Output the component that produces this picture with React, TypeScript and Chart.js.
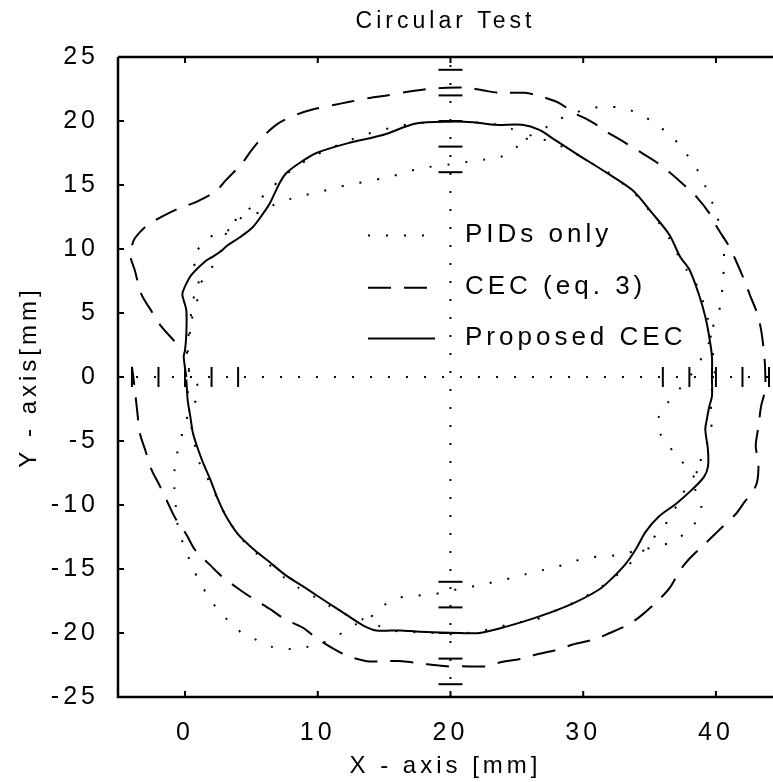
import React, { useEffect, useRef } from 'react';
import { Chart, registerables } from 'chart.js';

Chart.register(...registerables);

const TITLE = 'Circular Test';
const X_LABEL = 'X - axis [mm]';
const Y_LABEL = 'Y - axis[mm]';
const FONT = '"Liberation Sans", Arial, Helvetica, sans-serif';

const X_MIN = -5.05;
const X_MAX = 44.3;
const Y_MIN = -25;
const Y_MAX = 25;
const xTickValues = [0, 10, 20, 30, 40];
const yTickValues = [-25, -20, -15, -10, -5, 0, 5, 10, 15, 20, 25];

const seriesLabels = ['PIDs only', 'CEC (eq. 3)', 'Proposed CEC'];

// Proposed CEC (solid)
const proposedPath: [number, number][] = [
  [0.1, 0.0], [-0.1, 1.6], [0.0, 2.1], [0.1, 3.4], [0.1, 5.2], [-0.1, 6.0], [-0.2, 6.5], [0.1, 7.3],
  [0.5, 8.0], [1.6, 9.1], [2.1, 9.4], [2.8, 9.9], [3.1, 10.2], [4.1, 10.9], [5.1, 11.7], [5.9, 12.8],
  [6.4, 13.6], [7.1, 15.1], [7.6, 15.9], [8.6, 16.7], [9.9, 17.5], [12.4, 18.3], [14.9, 18.9],
  [17.4, 19.8], [20.0, 19.95], [21.7, 19.9], [23.4, 19.7], [25.4, 19.7], [26.7, 19.3], [27.9, 18.5],
  [29.7, 17.3], [31.7, 16.0], [33.7, 14.6], [35.2, 12.8], [36.5, 11.1], [37.3, 9.4], [38.0, 8.4],
  [38.7, 6.5], [39.2, 4.7], [39.5, 3.1], [39.7, 1.6], [39.7, 0.0], [39.7, -1.5], [39.5, -2.3],
  [39.3, -3.4], [39.2, -4.1], [39.4, -5.7], [39.4, -7.0], [39.1, -7.8], [38.2, -8.8], [37.0, -9.9],
  [35.7, -10.9], [34.7, -12.1], [34.0, -13.4], [33.2, -14.6], [32.2, -15.7], [31.2, -16.6],
  [29.2, -17.7], [26.7, -18.7], [24.2, -19.5], [22.2, -20.0], [20.7, -20.0], [17.7, -19.9],
  [16.2, -19.8], [14.4, -19.8], [13.4, -19.4], [12.2, -18.6], [10.7, -17.6], [9.1, -16.5],
  [7.6, -15.5], [6.3, -14.4], [5.1, -13.4], [4.0, -12.3], [3.1, -10.9], [2.5, -9.6], [1.9, -8.0],
  [1.4, -6.8], [1.0, -5.7], [0.6, -4.4], [0.4, -3.1], [0.2, -1.8], [0.1, -0.2],
];

// CEC (eq. 3) (dashed)
const cecPath: [number, number][] = [
  [-0.8, 2.8], [-1.9, 4.1], [-2.5, 5.1], [-3.3, 6.5], [-3.8, 8.4], [-4.1, 9.4], [-3.9, 10.6],
  [-3.5, 11.2], [-2.8, 11.9], [-1.6, 12.6], [-0.4, 13.2], [0.9, 13.7], [2.3, 14.5], [3.1, 15.4],
  [4.3, 16.7], [5.0, 17.7], [5.9, 18.8], [7.0, 19.8], [8.4, 20.5], [9.6, 20.9], [11.2, 21.25],
  [12.4, 21.5], [13.9, 21.8], [15.2, 22.0], [16.9, 22.3], [18.3, 22.5], [19.7, 22.6], [21.2, 22.6],
  [22.4, 22.4], [23.7, 22.2], [25.6, 22.2], [26.7, 21.95], [28.2, 21.4], [29.2, 20.7], [30.7, 19.9],
  [31.7, 19.2], [33.0, 18.4], [34.1, 17.7], [35.5, 16.8], [36.5, 16.0], [37.7, 14.9], [38.6, 14.0],
  [39.5, 12.8], [40.2, 11.5], [41.0, 10.2], [41.5, 9.1], [42.2, 7.4], [42.6, 6.3], [43.1, 5.0],
  [43.4, 3.7], [43.6, 2.1], [43.7, 0.8], [43.7, -1.0], [43.4, -2.3], [43.2, -3.9], [43.0, -5.4],
  [43.2, -6.7], [43.1, -8.2], [42.7, -9.1], [42.2, -9.7], [41.5, -10.7], [40.2, -12.0], [39.2, -13.0],
  [38.0, -14.2], [37.3, -15.1], [36.5, -16.5], [35.7, -17.4], [34.3, -18.7], [33.3, -19.4],
  [32.0, -20.0], [30.8, -20.5], [29.2, -20.9], [28.1, -21.3], [26.4, -21.7], [25.4, -22.0],
  [23.7, -22.3], [22.7, -22.6], [20.9, -22.6], [19.7, -22.6], [17.9, -22.4], [16.4, -22.2],
  [15.2, -22.2], [13.7, -22.2], [12.4, -21.85], [11.3, -21.3], [9.9, -20.4], [8.9, -19.6],
  [7.5, -18.9], [6.5, -18.2], [5.1, -17.3], [4.1, -16.6], [2.8, -15.6], [1.9, -14.7], [0.75, -13.5],
  [0.1, -12.3], [-0.75, -11.0], [-1.4, -9.6], [-2.0, -8.3], [-2.5, -7.3], [-3.0, -5.7], [-3.4, -4.4],
  [-3.6, -2.7], [-3.8, -0.8], [-4.0, 0.8],
];

// PIDs only (dotted) - first lap
const pidLap1: [number, number][] = [
  [0.3, 0.4], [0.15, 2.1], [0.4, 4.1], [0.8, 5.5], [1.05, 6.8], [0.9, 8.2], [0.6, 9.3], [1.25, 10.3],
  [2.3, 11.2], [3.6, 11.6], [4.4, 12.6], [5.8, 12.9], [6.6, 13.4], [7.9, 13.9], [9.0, 14.2],
  [10.3, 14.5], [11.4, 14.8], [12.7, 15.1], [13.9, 15.3], [15.2, 15.6], [16.4, 15.9], [17.7, 16.3],
  [19.9, 16.6], [21.2, 16.8], [22.6, 17.0], [23.8, 17.2], [24.9, 17.9], [25.9, 18.8], [26.9, 19.3],
  [28.1, 20.1], [29.3, 20.6], [30.5, 21.0], [31.8, 21.1], [33.1, 21.0], [34.3, 20.5], [35.3, 19.9],
  [36.3, 19.1], [37.3, 18.1], [38.0, 17.1], [38.7, 16.0], [39.2, 14.9], [39.7, 13.7], [40.1, 12.5],
  [40.5, 11.2], [40.6, 9.9], [40.6, 8.5], [40.5, 7.3], [40.4, 5.9], [40.1, 4.7], [39.6, 3.5],
  [39.4, 2.4], [38.7, 1.1], [38.0, 0.0], [37.2, -1.0], [36.3, -2.1], [35.7, -3.1], [35.8, -4.4],
  [36.5, -5.4], [37.2, -6.5], [38.5, -7.2], [38.4, -8.6], [38.9, -10.1], [38.5, -11.3], [37.7, -12.2],
  [36.6, -12.9], [35.5, -13.3], [34.2, -13.5], [33.0, -13.85], [31.75, -14.0], [30.5, -14.1],
  [29.3, -14.4], [28.1, -14.8], [26.9, -15.1], [25.7, -15.4], [24.6, -15.7], [23.3, -16.0],
  [22.1, -16.3], [20.8, -16.5], [19.7, -16.8], [18.4, -17.0], [17.2, -17.1], [15.9, -17.3],
  [14.9, -17.9], [13.8, -18.9], [12.7, -19.4], [11.5, -20.2], [10.3, -20.8], [9.15, -21.1],
  [7.9, -21.25], [6.6, -21.1], [5.5, -20.6], [4.3, -20.0], [3.4, -19.2], [2.6, -18.3], [1.75, -17.2],
  [1.2, -16.1], [0.6, -15.0], [0.2, -13.9], [-0.25, -12.7], [-0.6, -11.3], [-0.7, -10.1], [-0.8, -8.7],
  [-0.8, -7.4], [-0.6, -6.0], [-0.3, -4.8], [0.0, -3.6], [0.5, -2.4], [1.05, -1.3], [0.7, 0.0],
];

// PIDs only (dotted) - second lap
const pidLap2: [number, number][] = [
  [0.3, 0.6], [0.2, 2.0], [0.4, 3.8], [0.5, 5.5], [0.9, 6.9], [1.65, 8.0], [2.4, 9.2], [2.9, 10.4],
  [3.3, 11.9], [4.2, 12.5], [5.3, 13.6], [6.4, 14.6], [7.3, 15.6], [8.4, 16.4], [9.4, 17.1],
  [10.6, 17.7], [11.9, 18.3], [13.2, 18.8], [14.4, 19.2], [15.7, 19.5], [17.2, 19.8], [18.8, 19.9],
  [20.5, 20.0], [22.0, 19.9], [23.6, 19.7], [24.8, 19.3], [25.8, 18.6], [27.3, 18.5], [28.6, 17.9],
  [29.7, 17.3], [30.8, 16.6], [32.0, 15.9], [33.0, 15.1], [34.0, 14.2], [34.9, 13.1], [35.7, 12.05],
  [36.5, 10.8], [37.2, 9.4], [37.9, 8.2], [38.5, 7.3], [39.0, 6.0], [39.4, 4.5], [39.7, 2.4],
  [39.9, 0.3], [39.6, -1.8], [39.7, -3.4], [39.5, -4.7], [39.0, -6.0], [38.6, -7.3], [37.9, -8.4],
  [37.2, -9.7], [36.6, -10.9], [35.8, -12.0], [34.9, -13.0], [34.2, -14.0], [33.1, -14.9],
  [32.1, -15.9], [31.0, -16.6], [29.6, -17.5], [28.4, -18.0], [27.4, -18.5], [26.3, -19.0],
  [24.9, -19.2], [23.4, -19.6], [22.0, -19.9], [20.3, -20.1], [18.6, -20.0], [16.8, -19.9],
  [15.6, -19.8], [14.5, -19.4], [13.3, -18.9], [12.0, -18.5], [10.9, -17.9], [9.8, -17.2],
  [8.6, -16.5], [7.5, -15.7], [6.5, -14.8], [5.4, -13.8], [4.4, -12.8], [3.4, -11.4], [2.6, -9.9],
  [1.9, -8.3], [1.2, -7.0], [0.8, -5.6], [0.5, -4.0], [0.3, -2.5], [0.2, -1.0],
];

// reference cross and radial marks
const centerX = 20;
const centerY = 0;
const crossHorizontal: [number, number][] = [[X_MIN, centerY], [X_MAX, centerY]];
const crossVertical: [number, number][] = [[centerX, Y_MIN], [centerX, Y_MAX]];
const radialMarksY = [24, 22, 20, 18, 16, -16, -18, -20, -22, -24];
const radialMarksX = [-4, -2, 0, 2, 4, 36, 38, 40, 42, 44];

const DOTTED = [2, 16];
const DASHED = [23, 13];
const LETTER_SPACING = '4px';

const toPts = (arr: [number, number][]) => arr.map(([x, y]) => ({ x, y }));

const lineStyle = (dash: number[], tension: number) => ({
  showLine: true,
  borderColor: '#000',
  backgroundColor: '#000',
  borderWidth: 2,
  borderDash: dash,
  pointRadius: 0,
  tension,
  fill: false,
});

const spacingPlugin = {
  id: 'spacing',
  beforeDraw(chart: any) {
    chart.ctx.letterSpacing = LETTER_SPACING;
  },
};

const framePlugin = {
  id: 'frame',
  afterDraw(chart: any) {
    const { ctx, chartArea: a, scales } = chart;
    ctx.save();
    ctx.strokeStyle = '#000';
    ctx.setLineDash([]);
    ctx.lineWidth = 2.5;
    ctx.beginPath();
    ctx.moveTo(a.left, a.top);
    ctx.lineTo(a.right, a.top);
    ctx.moveTo(a.left, a.top);
    ctx.lineTo(a.left, a.bottom);
    ctx.lineTo(a.right, a.bottom);
    ctx.stroke();
    ctx.lineWidth = 2;
    const len = 6;
    ctx.beginPath();
    xTickValues.forEach((v) => {
      const px = scales.x.getPixelForValue(v);
      ctx.moveTo(px, a.bottom);
      ctx.lineTo(px, a.bottom - len);
      ctx.moveTo(px, a.top);
      ctx.lineTo(px, a.top + len);
    });
    yTickValues.forEach((v) => {
      const py = scales.y.getPixelForValue(v);
      ctx.moveTo(a.left, py);
      ctx.lineTo(a.left + len, py);
    });
    ctx.stroke();
    ctx.restore();
  },
};

const legendPlugin = {
  id: 'inlineLegend',
  afterDatasetsDraw(chart: any) {
    const { ctx, chartArea: a } = chart;
    const rows = [177.5, 229.7, 280.5];
    ctx.save();
    ctx.letterSpacing = LETTER_SPACING;
    ctx.font = `26px ${FONT}`;
    ctx.fillStyle = '#000';
    ctx.textAlign = 'left';
    ctx.textBaseline = 'middle';
    seriesLabels.forEach((label, i) => {
      const ds = chart.data.datasets[i];
      const y = a.top + rows[i];
      ctx.strokeStyle = '#000';
      ctx.lineWidth = 2;
      ctx.setLineDash(ds.borderDash || []);
      ctx.lineDashOffset = 0;
      ctx.beginPath();
      ctx.moveTo(a.left + 250, y + 1);
      ctx.lineTo(a.left + 317, y + 1);
      ctx.stroke();
      ctx.setLineDash([]);
      ctx.fillText(label, a.left + 347, y);
    });
    ctx.restore();
  },
};

export default function App() {
  const ref = useRef<HTMLCanvasElement>(null);

  useEffect(() => {
    document.body.style.margin = '0';
    document.body.style.overflow = 'hidden';
    const canvas = ref.current;
    if (!canvas) return;
    Chart.defaults.font.family = FONT;
    Chart.defaults.color = '#000';

    const chart = new Chart(canvas, {
      type: 'scatter',
      data: {
        datasets: [
          { label: seriesLabels[0], data: toPts([...pidLap1, ...pidLap2]), ...lineStyle(DOTTED, 0.3) },
          { label: seriesLabels[1], data: toPts(cecPath), ...lineStyle(DASHED, 0.3) },
          { label: seriesLabels[2], data: toPts(proposedPath), ...lineStyle([], 0.3) },
          { label: 'cross-h', data: toPts(crossHorizontal), ...lineStyle(DOTTED, 0) },
          { label: 'cross-v', data: toPts(crossVertical), ...lineStyle(DOTTED, 0) },
          {
            label: 'marks-h',
            data: radialMarksY.map((y) => ({ x: centerX, y })),
            showLine: false,
            pointStyle: 'line',
            pointRadius: 12,
            pointRotation: 0,
            pointBorderWidth: 2,
            pointBorderColor: '#000',
            pointBackgroundColor: '#000',
          },
          {
            label: 'marks-v',
            data: radialMarksX.map((x) => ({ x, y: centerY })),
            showLine: false,
            pointStyle: 'line',
            pointRadius: 10,
            pointRotation: 90,
            pointBorderWidth: 2,
            pointBorderColor: '#000',
            pointBackgroundColor: '#000',
          },
        ] as any,
      },
      options: {
        animation: false,
        responsive: false,
        devicePixelRatio: 1,
        events: [],
        layout: { padding: 0, autoPadding: false },
        plugins: {
          legend: { display: false },
          tooltip: { enabled: false },
          title: {
            display: true,
            text: TITLE,
            fullSize: false,
            color: '#000',
            font: { family: FONT, size: 23, weight: 'normal' },
            padding: { top: 8.2, bottom: 21.2 },
          },
        },
        scales: {
          x: {
            type: 'linear',
            min: X_MIN,
            max: X_MAX,
            grid: { display: false },
            border: { display: false },
            afterBuildTicks: (s: any) => {
              s.ticks = xTickValues.map((v) => ({ value: v }));
            },
            afterFit: (s: any) => {
              s.height = 85;
              s.paddingLeft = 0;
              s.paddingRight = 0;
            },
            ticks: {
              color: '#000',
              font: { family: FONT, size: 25 },
              padding: 13,
              maxRotation: 0,
              autoSkip: false,
            },
            title: {
              display: true,
              text: X_LABEL,
              color: '#000',
              font: { family: FONT, size: 24 },
              padding: { top: 0, bottom: 1.6 },
            },
          },
          y: {
            type: 'linear',
            min: Y_MIN,
            max: Y_MAX,
            grid: { display: false },
            border: { display: false },
            afterBuildTicks: (s: any) => {
              s.ticks = yTickValues.map((v) => ({ value: v }));
            },
            afterFit: (s: any) => {
              s.width = 118;
              s.paddingTop = 0;
              s.paddingBottom = 0;
            },
            ticks: {
              color: '#000',
              font: { family: FONT, size: 25 },
              padding: 11,
              autoSkip: false,
            },
            title: {
              display: true,
              text: Y_LABEL,
              color: '#000',
              font: { family: FONT, size: 24 },
              padding: { top: 15, bottom: 0 },
            },
          },
        },
      } as any,
      plugins: [spacingPlugin, legendPlugin, framePlugin],
    });

    return () => chart.destroy();
  }, []);

  return (
    <div style={{ width: 773, height: 782 }}>
      <canvas ref={ref} width={773} height={782} style={{ display: 'block', width: '773px', height: '782px' }} />
    </div>
  );
}
